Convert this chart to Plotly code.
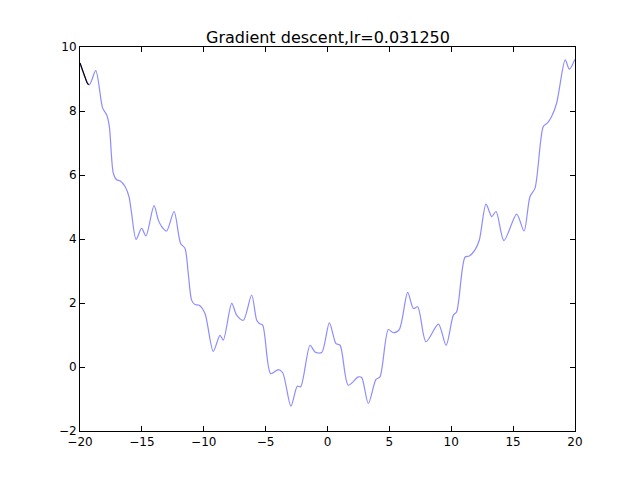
import plotly.graph_objects as go

# Curve (x, y)
curve_x = [-20.0, -19.25, -18.73, -18.17, -17.85, -17.63, -17.31, -17.04, -16.77, -16.36,
           -16.04, -15.83, -15.47, -15.02, -14.67, -14.02, -13.67, -13.40, -13.0, -12.40,
           -11.87, -11.52, -11.25, -10.98, -10.71, -10.36, -9.90, -9.23, -8.69, -8.42,
           -7.74, -7.34, -6.80, -6.13, -5.72, -5.51, -5.24, -4.59, -3.97, -3.62,
           -2.95, -2.44, -2.17, -1.41, -1.01, -0.47, 0.15, 0.69, 1.02, 1.68,
           2.49, 2.76, 3.30, 3.92, 4.24, 4.92, 5.32, 5.80, 6.48, 6.94,
           7.29, 7.96, 8.96, 9.58, 10.17, 10.44, 11.11, 11.46, 11.92, 12.27,
           12.81, 13.27, 13.62, 14.26, 15.29, 15.88, 16.36, 16.77, 17.44, 17.76,
           18.11, 18.52, 19.21, 19.54, 20.0]
curve_y = [9.50, 8.82, 9.26, 8.09, 7.88, 7.52, 6.06, 5.85, 5.82, 5.64,
           5.32, 4.80, 3.99, 4.33, 4.10, 5.04, 4.59, 4.39, 4.25, 4.86,
           3.86, 3.71, 2.92, 2.09, 1.95, 1.93, 1.67, 0.49, 0.99, 0.84,
           1.99, 1.62, 1.46, 2.25, 1.46, 1.36, 1.31, -0.21, -0.08, -0.18,
           -1.22, -0.60, -0.62, 0.68, 0.47, 0.45, 1.38, 0.73, 0.68, -0.57,
           -0.31, -0.33, -1.14, -0.39, -0.31, 1.17, 1.07, 1.17, 2.33, 1.83,
           1.88, 0.79, 1.34, 0.68, 1.62, 1.73, 3.43, 3.47, 3.66, 3.97,
           5.09, 4.70, 4.86, 3.95, 4.78, 4.25, 5.32, 5.59, 7.52, 7.62,
           7.83, 8.25, 9.60, 9.31, 9.62]

# Gradient descent path
path_x = [-20.0, -19.8, -19.6, -19.45, -19.35, -19.3]
path_y = [9.50, 9.26, 9.03, 8.90, 8.84, 8.82]

x_ticks = [-20, -15, -10, -5, 0, 5, 10, 15, 20]
y_ticks = [-2, 0, 2, 4, 6, 8, 10]


def lab(v):
    return str(v).replace("-", "\u2212")


fig = go.Figure()
fig.add_trace(go.Scatter(x=curve_x, y=curve_y, mode="lines",
                         line=dict(color="rgba(0,0,255,0.45)", width=1.2, shape="spline", smoothing=0.8),
                         hoverinfo="skip", showlegend=False))
fig.add_trace(go.Scatter(x=path_x, y=path_y, mode="lines",
                         line=dict(color="black", width=1.2),
                         hoverinfo="skip", showlegend=False))

axis_common = dict(showgrid=False, zeroline=False, showline=True, linecolor="black", linewidth=1,
                   mirror="ticks", ticks="inside", ticklen=5, tickcolor="black",
                   tickfont=dict(family="DejaVu Sans", size=12, color="black"))

# body of the page has an 8px offset, so the margins are shifted by 8px
fig.update_layout(
    width=640, height=480,
    margin=dict(l=72, r=73, t=39, b=57),
    paper_bgcolor="white", plot_bgcolor="white",
    title=dict(text="Gradient descent,lr=0.031250", x=0.5, xanchor="center",
               y=1 - 29 / 480, yanchor="middle",
               font=dict(family="DejaVu Sans", size=16, color="black")),
    xaxis=dict(range=[-20, 20], tickvals=x_ticks, ticktext=[lab(v) for v in x_ticks], **axis_common),
    yaxis=dict(range=[-2, 10], tickvals=y_ticks, ticktext=[lab(v) for v in y_ticks], **axis_common),
)

fig.write_html("out.html")
